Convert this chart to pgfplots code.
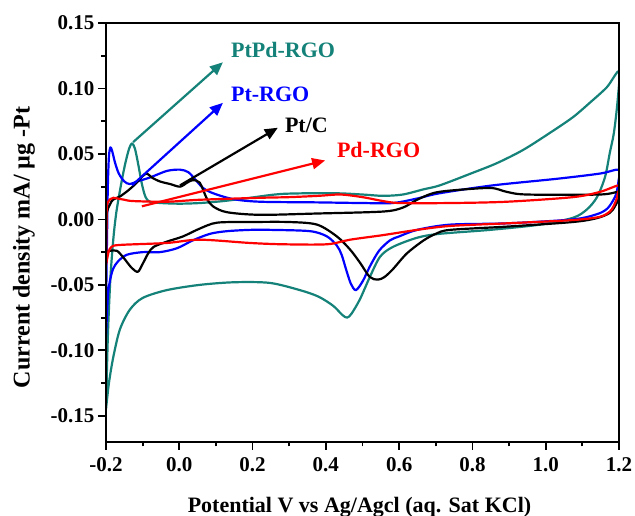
\documentclass[border=0pt]{standalone}
\usepackage{fontspec}
\setmainfont{Liberation Serif}
\usepackage{pgfplots}
\pgfplotsset{compat=1.18}
\usetikzlibrary{arrows.meta}
\definecolor{tealc}{RGB}{20,130,120}
\definecolor{blu}{RGB}{0,0,255}
\definecolor{rd}{RGB}{255,0,0}
\begin{document}
\begin{tikzpicture}
\begin{axis}[name=ax, scale only axis, width=513pt, height=419pt,
  xmin=-0.2, xmax=1.2, ymin=-0.17, ymax=0.15,
  xtick={-0.2,0,0.2,0.4,0.6,0.8,1.0,1.2},
  ytick={-0.15,-0.1,-0.05,0,0.05,0.1,0.15},
  minor tick num=1,
  scaled y ticks=false, scaled x ticks=false,
  xticklabel style={yshift=-4pt,/pgf/number format/.cd,fixed,fixed zerofill,precision=1},
  yticklabel style={/pgf/number format/.cd,fixed,fixed zerofill,precision=2},
  /pgf/number format/assume math mode=true,
  tick align=outside, xtick pos=left, ytick pos=left,
  major tick length=8pt, minor tick length=4.5pt,
  every tick/.style={black, line width=1.8pt},
  axis line style={draw=none},
  tick label style={font=\fontsize{21}{24}\selectfont\bfseries},
  xlabel={Potential V vs Ag/Agcl (aq. Sat KCl)},
  xlabel style={at={(axis description cs:0.5,0)}, anchor=base, yshift=-70.5pt, xshift=-3pt, font=\fontsize{22}{24}\selectfont\bfseries},
  every axis plot/.append style={line width=2.2pt, smooth, tension=0.5, line join=round},
]
% PtPd-RGO
\addplot[tealc] coordinates {
(-0.2,-0.145) (-0.195,-0.09) (-0.188,-0.045) (-0.18,-0.015) (-0.172,0.005) (-0.16,0.025)
(-0.148,0.042) (-0.137,0.054) (-0.129,0.058) (-0.121,0.054) (-0.112,0.042) (-0.102,0.027)
(-0.092,0.017) (-0.08,0.0135) (-0.05,0.0125) (0.0,0.012) (0.056,0.0125) (0.12,0.014)
(0.193,0.0165) (0.283,0.0195) (0.42,0.02) (0.5,0.019) (0.556,0.018) (0.61,0.019)
(0.667,0.023) (0.711,0.026) (0.8,0.0355) (0.867,0.043) (0.938,0.053) (1.011,0.066)
(1.074,0.078) (1.12,0.089) (1.167,0.101) (1.2,0.113)
(1.196,0.09) (1.186,0.066) (1.175,0.051) (1.162,0.0325) (1.14,0.017) (1.112,0.0075)
(1.074,0.0012) (0.984,-0.004) (0.848,-0.008) (0.711,-0.011) (0.649,-0.014) (0.583,-0.021)
(0.548,-0.0285) (0.52,-0.044) (0.493,-0.061) (0.47,-0.072) (0.458,-0.075) (0.445,-0.073)
(0.42,-0.066) (0.38,-0.059) (0.329,-0.054) (0.247,-0.0485) (0.15,-0.048) (0.056,-0.05)
(-0.034,-0.054) (-0.1,-0.06) (-0.135,-0.069) (-0.162,-0.084) (-0.18,-0.105) (-0.192,-0.125)
(-0.2,-0.145)
};
% Pt-RGO
\addplot[blu] coordinates {
(-0.2,-0.09) (-0.199,-0.05) (-0.197,-0.01) (-0.195,0.025) (-0.192,0.048) (-0.188,0.055)
(-0.183,0.052) (-0.175,0.043) (-0.165,0.035) (-0.15,0.029) (-0.135,0.027) (-0.115,0.029)
(-0.08,0.032) (-0.034,0.037) (0.002,0.038) (0.025,0.036) (0.045,0.03) (0.065,0.024)
(0.092,0.02) (0.147,0.0155) (0.22,0.0135) (0.376,0.013) (0.5,0.0125) (0.583,0.0125)
(0.65,0.016) (0.711,0.02) (0.856,0.026) (1.03,0.031) (1.148,0.035) (1.2,0.038)
(1.199,0.03) (1.193,0.02) (1.183,0.014) (1.167,0.008) (1.14,0.004) (1.074,0.0)
(0.894,-0.003) (0.739,-0.004) (0.649,-0.008) (0.6,-0.013) (0.575,-0.016) (0.545,-0.024)
(0.52,-0.036) (0.501,-0.047) (0.482,-0.054) (0.468,-0.049) (0.455,-0.038) (0.443,-0.027)
(0.43,-0.02) (0.403,-0.013) (0.357,-0.009) (0.25,-0.008) (0.193,-0.008) (0.13,-0.009)
(0.084,-0.011) (0.037,-0.016) (-0.006,-0.022) (-0.053,-0.025) (-0.1,-0.025) (-0.143,-0.027)
(-0.167,-0.032) (-0.181,-0.038) (-0.19,-0.048) (-0.195,-0.059) (-0.2,-0.09)
};
% Pt/C
\addplot[black] coordinates {
(-0.2,-0.025) (-0.199,-0.005) (-0.197,0.006) (-0.19,0.011) (-0.181,0.015) (-0.162,0.0175)
(-0.14,0.022) (-0.12,0.027) (-0.1,0.033) (-0.088,0.035) (-0.075,0.032) (-0.053,0.029)
(-0.025,0.027) (0.002,0.025) (0.021,0.028) (0.037,0.03) (0.056,0.028) (0.075,0.016)
(0.092,0.01) (0.13,0.0055) (0.22,0.0035) (0.376,0.0045) (0.556,0.006) (0.61,0.009)
(0.649,0.015) (0.692,0.02) (0.739,0.022) (0.848,0.024) (0.894,0.021) (0.949,0.019)
(1.148,0.019) (1.2,0.021)
(1.197,0.015) (1.189,0.01) (1.175,0.005) (1.14,0.001) (1.074,-0.002) (0.894,-0.0055)
(0.739,-0.008) (0.7,-0.011) (0.667,-0.016) (0.621,-0.026) (0.583,-0.038) (0.56,-0.044)
(0.542,-0.046) (0.52,-0.044) (0.493,-0.033) (0.466,-0.023) (0.43,-0.013) (0.376,-0.004)
(0.3,-0.002) (0.193,-0.002) (0.103,-0.0025) (0.056,-0.007) (0.01,-0.013) (-0.034,-0.017)
(-0.07,-0.021) (-0.085,-0.026) (-0.1,-0.034) (-0.113,-0.04) (-0.13,-0.037) (-0.15,-0.03)
(-0.17,-0.024) (-0.19,-0.024) (-0.2,-0.025)
};
% Pd-RGO
\addplot[rd] coordinates {
(-0.2,-0.035) (-0.199,-0.01) (-0.198,0.008) (-0.195,0.013) (-0.188,0.0155) (-0.18,0.0165)
(-0.15,0.015) (-0.126,0.014) (-0.034,0.0135) (0.056,0.015) (0.22,0.0165) (0.3,0.017)
(0.38,0.018) (0.44,0.019) (0.5,0.017) (0.556,0.014) (0.602,0.0125) (0.739,0.0125)
(0.894,0.0135) (1.074,0.017) (1.148,0.021) (1.2,0.026)
(1.197,0.02) (1.194,0.016) (1.185,0.01) (1.175,0.006) (1.148,0.002) (1.074,-0.0005)
(0.894,-0.003) (0.739,-0.005) (0.649,-0.008) (0.556,-0.012) (0.466,-0.0155) (0.403,-0.019)
(0.283,-0.019) (0.193,-0.018) (0.056,-0.0155) (-0.034,-0.018) (-0.162,-0.0195) (-0.185,-0.021)
(-0.193,-0.025) (-0.2,-0.035)
};
% annotations
\draw[tealc, line width=2.2pt, -{Triangle[length=13pt,width=11pt]}] (axis cs:-0.126,0.059) -- (axis cs:0.119,0.120);
\draw[blu, line width=2.2pt, -{Triangle[length=13pt,width=11pt]}] (axis cs:-0.129,0.026) -- (axis cs:0.119,0.089);
\draw[black, line width=2.2pt, -{Triangle[length=13pt,width=11pt]}] (axis cs:0.002,0.026) -- (axis cs:0.269,0.070);
\draw[rd, line width=2.2pt, -{Triangle[length=13pt,width=11pt]}] (axis cs:-0.102,0.010) -- (axis cs:0.398,0.045);
\node[anchor=base west, inner sep=0pt, text=tealc, font=\fontsize{22}{24}\selectfont\bfseries] at (axis cs:0.141,0.1233) {PtPd-RGO};
\node[anchor=base west, inner sep=0pt, text=blu, font=\fontsize{22}{24}\selectfont\bfseries] at (axis cs:0.141,0.0897) {Pt-RGO};
\node[anchor=base west, inner sep=0pt, text=black, font=\fontsize{22}{24}\selectfont\bfseries] at (axis cs:0.288,0.0661) {Pt/C};
\node[anchor=base west, inner sep=0pt, text=rd, font=\fontsize{22}{24}\selectfont\bfseries] at (axis cs:0.430,0.047) {Pd-RGO};
\end{axis}
\path (ax.south west) coordinate (SW) (ax.north east) coordinate (NE);
\draw[black, line width=2.6pt, line join=miter] (SW) -- (SW |- NE) -- (NE) -- (NE |- SW) -- cycle;
\node[rotate=90, font=\fontsize{24}{26}\selectfont\bfseries, anchor=center] at ([xshift=-82pt,yshift=-15pt]ax.west) {Current density mA/ µg -Pt};
\pgfresetboundingbox
\path ([xshift=-106pt,yshift=-74pt]SW) rectangle ([xshift=16pt,yshift=23pt]NE);
\end{tikzpicture}
\end{document}
